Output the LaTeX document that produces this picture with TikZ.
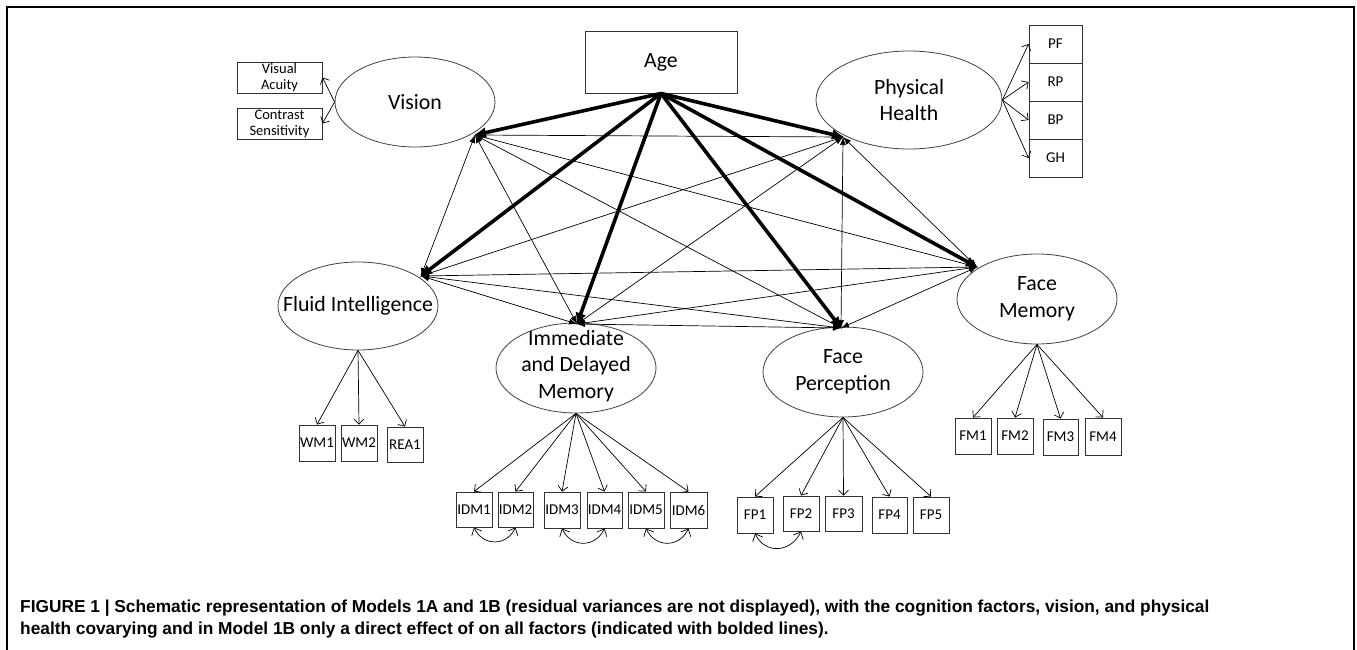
\documentclass[tikz,border=0pt]{standalone}
\usepackage{fontspec}
\setmainfont{Carlito}
\newfontfamily\capfont{Liberation Sans}
\usetikzlibrary{arrows.meta,shapes.geometric}
\begin{document}
\begin{tikzpicture}[x=1pt,y=-1pt,
  lat/.style={ellipse, draw=black!75, line width=0.8pt, inner sep=0pt, minimum width=160pt, minimum height=90pt},
  lattxt/.style={inner sep=0pt, align=center, font=\fontsize{21.8}{26.8}\selectfont},
  obs/.style={rectangle, draw=black!80, line width=0.9pt, inner sep=0pt, minimum width=36pt, minimum height=36pt, font=\fontsize{15}{16}\selectfont, align=center},
  bold/.style={line width=3.6pt, -{Latex[length=13pt,width=11pt]}, shorten >=-2pt},
  covl/.style={line width=0.7pt, {Latex[length=8pt,width=6pt]}-{Latex[length=8pt,width=6pt]}},
  load/.style={line width=0.7pt, -{Straight Barb[length=5pt,width=10pt]}},
  covarc/.style={line width=0.7pt, {Straight Barb[length=6pt,width=11pt]}-{Straight Barb[length=6pt,width=11pt]}},
  capt/.style={inner sep=0pt, font=\capfont\bfseries\fontsize{17.3}{20}\selectfont}
]
\useasboundingbox (0,0) rectangle (1357,650);
\draw[line width=2pt] (7,650) -- (7,7) -- (1354,7) -- (1354,650);

% Age
\node[rectangle, draw=black!80, line width=0.9pt, minimum width=152pt, minimum height=62pt, inner sep=0pt, font=\fontsize{21.8}{26.8}\selectfont] (age) at (661,62) {Age};

% latent factors
\node[lat] (vis) at (415,102) {};
\node[lattxt] at (vis) {Vision};
\node[lat, minimum width=186pt, minimum height=98pt] (ph) at (909,100) {};
\node[lattxt] at (ph) {Physical\\Health};
\node[lat, minimum height=88pt] (fi) at (358,306) {};
\node[lattxt] at (fi) {Fluid Intelligence};
\node[lat] (idm) at (576,368) {};
\node[lattxt] at ([yshift=2]idm.center) {Immediate\\and Delayed\\Memory};
\node[lat] (fp) at (843,372) {};
\node[lattxt] at (fp) {Face\\Perception};
\node[lat] (fm) at (1037,299) {};
\node[lattxt] at (fm) {Face\\Memory};

% vision indicators
\node[obs, minimum width=85pt, minimum height=31pt, font=\fontsize{14.5}{16}\selectfont] (va) at (279.5,77.5) {Visual\\Acuity};
\node[obs, minimum width=85pt, minimum height=31pt, font=\fontsize{14.5}{16}\selectfont] (cs) at (279.5,123.5) {Contrast\\Sensitivity};
\draw[load] (vis.west) -- (va.east);
\draw[load] (vis.west) -- (cs.east);

% physical health indicators
\node[obs, minimum width=53pt, minimum height=38pt] (pf) at (1055.5,44) {PF};
\node[obs, minimum width=53pt, minimum height=38pt] (rp) at (1055.5,82) {RP};
\node[obs, minimum width=53pt, minimum height=38pt] (bp) at (1055.5,120) {BP};
\node[obs, minimum width=53pt, minimum height=38pt] (gh) at (1055.5,158) {GH};
\foreach \b in {pf,rp,bp,gh} \draw[load] (ph.east) -- (\b.west);

% fluid intelligence indicators
\node[obs] (wm1) at (317,443) {WM1};
\node[obs] (wm2) at (359,443) {WM2};
\node[obs, minimum height=35pt] (rea1) at (405,444.5) {REA1};
\foreach \b in {wm1,wm2,rea1} \draw[load] (fi.south) -- (\b.north);

% IDM indicators
\node[obs, minimum height=35pt] (idm1) at (474,509.5) {IDM1};
\node[obs, minimum width=35pt, minimum height=35pt] (idm2) at (515.5,509.5) {IDM2};
\node[obs] (idm3) at (562,510) {IDM3};
\node[obs, minimum width=35pt] (idm4) at (604.5,510) {IDM4};
\node[obs] (idm5) at (646,510) {IDM5};
\node[obs, minimum width=37pt] (idm6) at (688.5,510) {IDM6};
\foreach \b in {idm1,idm2,idm3,idm4,idm5,idm6} \draw[load] (idm.south) -- (\b.north);
\draw[covarc] (idm1.south) to[out=-65,in=-115,looseness=1.3] (idm2.south);
\draw[covarc] (idm3.south) to[out=-65,in=-115,looseness=1.3] (idm4.south);
\draw[covarc] (idm5.south) to[out=-65,in=-115,looseness=1.3] (idm6.south);

% face perception indicators
\node[obs] (fp1) at (755,515) {FP1};
\node[obs, minimum height=35pt] (fp2) at (801,513.5) {FP2};
\node[obs, minimum width=37pt, minimum height=35pt] (fp3) at (843.5,513.5) {FP3};
\node[obs, minimum width=35pt] (fp4) at (889.5,515) {FP4};
\node[obs] (fp5) at (931,515) {FP5};
\foreach \b in {fp1,fp2,fp3,fp4,fp5} \draw[load] (fp.south) -- (\b.north);
\draw[covarc] (fp1.south) to[out=-65,in=-115,looseness=1.3] (fp2.south);

% face memory indicators
\node[obs] (fm1) at (973,436) {FM1};
\node[obs] (fm2) at (1015,436) {FM2};
\node[obs, minimum width=35pt] (fm3) at (1060.5,437) {FM3};
\node[obs, minimum height=37pt] (fm4) at (1103,436.5) {FM4};
\foreach \b in {fm1,fm2,fm3,fm4} \draw[load] (fm.south) -- (\b.north);

% connection points on the factors
\coordinate (vA) at (475,135);
\coordinate (pA) at (843,137);
\coordinate (fA) at (421,276);
\coordinate (iA) at (577,324);
\coordinate (qA) at (841,328);
\coordinate (mA) at (977,267);

% covariances among factors
\draw[covl] (vA) -- (pA);
\draw[covl] (vA) -- (fA);
\draw[covl] (vA) -- (iA);
\draw[covl] (vA) -- (qA);
\draw[covl] (vA) -- (mA);
\draw[covl] (pA) -- (fA);
\draw[covl] (pA) -- (iA);
\draw[covl] (pA) -- (qA);
\draw[covl] (pA) -- (mA);
\draw[covl] (fA) -- (iA);
\draw[covl] (fA) -- (qA);
\draw[covl] (fA) -- (mA);
\draw[covl] (iA) -- (qA);
\draw[covl] (iA) -- (mA);
\draw[covl] (qA) -- (mA);

% direct effects of age
\foreach \t in {vA,pA,fA,iA,qA,mA} \draw[bold] (age.south) -- (\t);

% caption
\node[capt, anchor=base west] (cap1) at (20,612) {FIGURE 1 | Schematic representation of Models 1A and 1B (residual variances are not displayed), with the cognition factors, vision, and physical};
\node[capt, anchor=base west] (cap2) at (20,634) {health covarying and in Model 1B only a direct effect of on all factors (indicated with bolded lines).};
\end{tikzpicture}
\end{document}
